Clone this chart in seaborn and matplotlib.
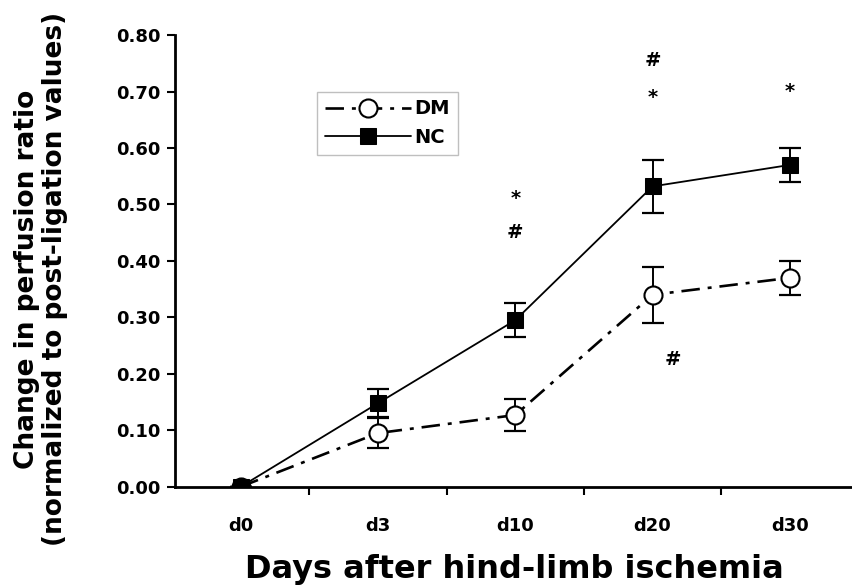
import numpy as np
import pandas as pd
import matplotlib
matplotlib.use("Agg")
import matplotlib.pyplot as plt
import seaborn as sns
from matplotlib.ticker import FixedLocator

days = ["d0", "d3", "d10", "d20", "d30"]
nc_mean = [0.0, 0.148, 0.295, 0.532, 0.570]
nc_err = [0.0, 0.025, 0.030, 0.047, 0.030]
dm_mean = [0.0, 0.095, 0.127, 0.340, 0.370]
dm_err = [0.0, 0.027, 0.028, 0.050, 0.030]

# significance marks: (day, y, symbol, x offset)
marks = [
    ("d10", 0.51, "*", 0.0), ("d10", 0.45, "#", 0.0),
    ("d20", 0.755, "#", 0.0), ("d20", 0.69, "*", 0.0),
    ("d20", 0.225, "#", 0.15), ("d30", 0.70, "*", 0.0),
]

df = pd.DataFrame({
    "day": days * 2,
    "ratio": nc_mean + dm_mean,
    "group": ["NC"] * 5 + ["DM"] * 5,
})

sns.set_style("white")
plt.rcParams["font.family"] = ["DejaVu Sans"]
plt.rcParams["text.color"] = "black"
plt.rcParams["axes.labelcolor"] = "black"
plt.rcParams["xtick.color"] = "black"
plt.rcParams["ytick.color"] = "black"

fig = plt.figure(figsize=(8.53, 5.85), dpi=100)
ax = fig.add_axes([0.205, 0.168, 0.795, 0.772])

# error bars first
ax.errorbar(days, dm_mean, yerr=dm_err, fmt="none", ecolor="black",
            elinewidth=1.4, capsize=8, capthick=1.6, zorder=2)
ax.errorbar(days, nc_mean, yerr=nc_err, fmt="none", ecolor="black",
            elinewidth=1.4, capsize=8, capthick=1.6, zorder=2)

dm = df[df.group == "DM"]
nc = df[df.group == "NC"]
sns.lineplot(data=dm, x="day", y="ratio", ax=ax, color="black", lw=1.9,
             linestyle=(0, (7, 3, 1.5, 3)), marker="o", markersize=13,
             markerfacecolor="white", markeredgecolor="black",
             markeredgewidth=1.5, label="DM", zorder=3)
sns.lineplot(data=nc, x="day", y="ratio", ax=ax, color="black", lw=1.3,
             marker="s", markersize=11, markerfacecolor="black",
             markeredgecolor="black", label="NC", zorder=4)

for d, y, s, dx in marks:
    ax.text(days.index(d) + dx, y, s, ha="center", va="center",
            fontsize=14, fontweight="bold")

ax.set_xlim(-0.48, 4.46)
ax.set_ylim(0, 0.8)
ax.set_yticks(np.arange(0, 0.81, 0.1))
ax.set_yticklabels([f"{v:.2f}" for v in np.arange(0, 0.81, 0.1)],
                   fontsize=13, fontweight="bold")
ax.set_xticks(range(len(days)))
ax.set_xticklabels(days, fontsize=13, fontweight="bold")
ax.xaxis.set_minor_locator(FixedLocator([0.5, 1.5, 2.5, 3.5]))
ax.tick_params(axis="x", which="major", length=0, pad=22)
ax.tick_params(axis="x", which="minor", length=6, width=1.5,
               direction="out", bottom=True)
ax.tick_params(axis="y", length=6, width=1.5, direction="out", left=True,
               pad=4)

sns.despine(ax=ax)
ax.spines["left"].set_linewidth(2)
ax.spines["bottom"].set_linewidth(2)
ax.spines["left"].set_color("black")
ax.spines["bottom"].set_color("black")

ax.set_xlabel("Days after hind-limb ischemia", fontsize=23,
              fontweight="heavy")
ax.xaxis.set_label_coords(0.5, -0.15)
ax.set_ylabel("Change in perfusion ratio\n(normalized to post-ligation values)",
              fontsize=19, fontweight="bold", linespacing=1.1)
ax.yaxis.set_label_coords(-0.158, 0.46)

leg = ax.legend(loc="upper left", bbox_to_anchor=(0.21, 0.875), frameon=True,
                fancybox=False, edgecolor="#b0b0b0", handlelength=4.4,
                prop={"weight": "bold", "size": 14}, borderpad=0.4,
                labelspacing=0.5, handletextpad=0.2, borderaxespad=0)
leg.get_frame().set_linewidth(1.0)

fig.savefig("out.png", dpi=100)
